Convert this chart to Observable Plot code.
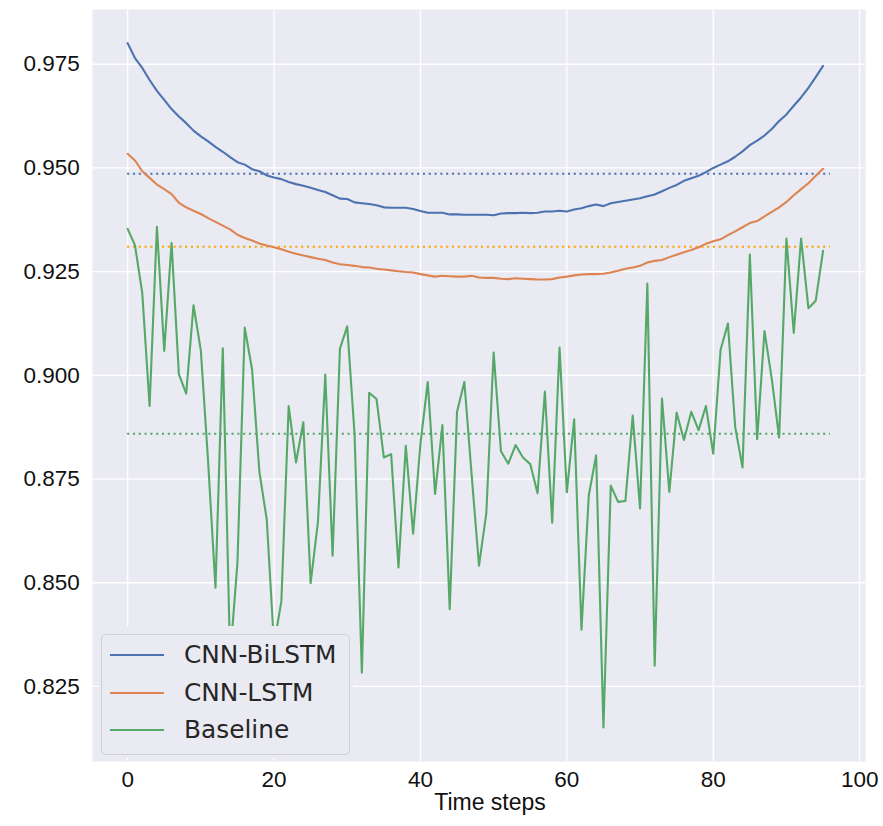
<!DOCTYPE html>
<html>
<head>
<meta charset="utf-8">
<script src="https://cdn.jsdelivr.net/npm/d3@7"></script>
<script src="https://cdn.jsdelivr.net/npm/@observablehq/plot@0.6"></script>
<style>
  body { margin: 0; background: #fff; }
  #wrap { position: relative; width: 883px; height: 826px; }
  #legend-cover { position: absolute; left: 99px; top: 626px; width: 254px; height: 132px; background: #eaeaf2; }
  #legend { position: absolute; left: 101px; top: 634px; width: 247px; height: 119px; background: #eaeaf2;
            border: 1.3px solid #cfcfd4; border-radius: 5px; font-family: "DejaVu Sans", sans-serif;
            font-size: 24.8px; color: #262626; }
  .row { position: absolute; left: 0; height: 30px; display: flex; align-items: center; }
  .sw { position: absolute; left: 8px; width: 54px; height: 2.4px; }
  .lab { position: absolute; left: 82px; white-space: nowrap; line-height: 30px; top: -15px; }
  #xlabel { position: absolute; left: 390px; width: 200px; top: 791px; text-align: center;
            font-family: "Liberation Sans", Arial, sans-serif; font-size: 23px; line-height: 23px; color: #111; }
</style>
</head>
<body>
<div id="wrap"></div>
<script>
// ---- data ----
const steps = d3.range(96);
const seriesNames = ["CNN-BiLSTM", "CNN-LSTM", "Baseline"];
const seriesColors = ["#4c72b0", "#dd8452", "#55a868"];
const meanColors = ["#4c72b0", "#ffa500", "#55a868"];

const cnnBiLSTM = [
  0.9801, 0.9765, 0.9741, 0.9712, 0.9686, 0.9664, 0.9642, 0.9624, 0.9608, 0.9590,
  0.9576, 0.9564, 0.9551, 0.9539, 0.9526, 0.9514, 0.9508, 0.9497, 0.9492, 0.9482,
  0.9477, 0.9473, 0.9466, 0.9461, 0.9457, 0.9452, 0.9447, 0.9442, 0.9434, 0.9426,
  0.9425, 0.9417, 0.9415, 0.9413, 0.9410, 0.9405, 0.9404, 0.9404, 0.9404, 0.9401,
  0.9396, 0.9392, 0.9392, 0.9392, 0.9388, 0.9388, 0.9387, 0.9387, 0.9387, 0.9387,
  0.9386, 0.9390, 0.9391, 0.9391, 0.9392, 0.9391, 0.9392, 0.9395, 0.9395, 0.9397,
  0.9395, 0.9400, 0.9403, 0.9408, 0.9412, 0.9408, 0.9415, 0.9418, 0.9421, 0.9424,
  0.9427, 0.9432, 0.9436, 0.9444, 0.9452, 0.9459, 0.9469, 0.9475, 0.9481, 0.9490,
  0.9500, 0.9508, 0.9516, 0.9527, 0.9540, 0.9555, 0.9566, 0.9578, 0.9594, 0.9613,
  0.9629, 0.9650, 0.9670, 0.9693, 0.9719, 0.9746
];
const cnnLSTM = [
  0.9534, 0.9518, 0.9492, 0.9476, 0.9460, 0.9449, 0.9437, 0.9416, 0.9405, 0.9397,
  0.9389, 0.9379, 0.9370, 0.9361, 0.9352, 0.9339, 0.9331, 0.9325, 0.9318, 0.9313,
  0.9309, 0.9304, 0.9298, 0.9293, 0.9289, 0.9285, 0.9281, 0.9278, 0.9272, 0.9268,
  0.9266, 0.9264, 0.9261, 0.9260, 0.9257, 0.9255, 0.9253, 0.9251, 0.9249, 0.9248,
  0.9244, 0.9241, 0.9238, 0.9240, 0.9239, 0.9238, 0.9238, 0.9240, 0.9236, 0.9235,
  0.9235, 0.9233, 0.9232, 0.9234, 0.9233, 0.9232, 0.9231, 0.9231, 0.9232, 0.9236,
  0.9238, 0.9241, 0.9243, 0.9244, 0.9244, 0.9245, 0.9248, 0.9252, 0.9257, 0.9260,
  0.9264, 0.9272, 0.9276, 0.9278, 0.9285, 0.9291, 0.9297, 0.9302, 0.9309, 0.9317,
  0.9323, 0.9328, 0.9338, 0.9347, 0.9357, 0.9367, 0.9372, 0.9383, 0.9394, 0.9405,
  0.9418, 0.9434, 0.9449, 0.9463, 0.9481, 0.9498
];
const baseline = [
  0.9353, 0.9314, 0.9198, 0.8926, 0.9358, 0.9059, 0.9319, 0.9003, 0.8956, 0.9169,
  0.9060, 0.8790, 0.8488, 0.9065, 0.8320, 0.8548, 0.9115, 0.9014, 0.8767, 0.8653,
  0.8350, 0.8455, 0.8926, 0.8790, 0.8887, 0.8499, 0.8647, 0.9002, 0.8565, 0.9064,
  0.9118, 0.8858, 0.8283, 0.8958, 0.8943, 0.8802, 0.8810, 0.8537, 0.8830, 0.8618,
  0.8835, 0.8984, 0.8714, 0.8880, 0.8436, 0.8912, 0.8984, 0.8759, 0.8541, 0.8668,
  0.9055, 0.8817, 0.8787, 0.8832, 0.8802, 0.8786, 0.8716, 0.8961, 0.8645, 0.9067,
  0.8718, 0.8894, 0.8387, 0.8711, 0.8807, 0.8151, 0.8734, 0.8695, 0.8697, 0.8903,
  0.8679, 0.9221, 0.8300, 0.8944, 0.8719, 0.8910, 0.8844, 0.8912, 0.8868, 0.8926,
  0.8811, 0.9061, 0.9125, 0.8875, 0.8778, 0.9291, 0.8846, 0.9107, 0.8991, 0.8850,
  0.9330, 0.9102, 0.9330, 0.9162, 0.9180, 0.9300
];
const meanValues = [0.9486, 0.9310, 0.8859];

const xTicks = [0, 20, 40, 60, 80, 100];
const yTicks = [0.825, 0.850, 0.875, 0.900, 0.925, 0.950, 0.975];
const xLabel = "Time steps";

// ---- build ----
const allSeries = [cnnBiLSTM, cnnLSTM, baseline];
const rows = allSeries.map(vals => steps.map((t, i) => ({t, v: vals[i]})));
const meanRows = meanValues.map((m, k) => ({m, k}));

const fontTicks = "Liberation Sans, Arial, sans-serif";

const chart = Plot.plot({
  width: 883,
  height: 826,
  marginLeft: 92,
  marginRight: 18,
  marginTop: 9,
  marginBottom: 65,
  style: {fontFamily: fontTicks, fontSize: "22.5px", color: "#111", background: "#fff"},
  x: {domain: [-4.8, 100.8]},
  y: {domain: [0.8069, 0.9882]},
  marks: [
    Plot.frame({fill: "#eaeaf2", stroke: null}),
    Plot.gridX({ticks: xTicks, stroke: "#ffffff", strokeOpacity: 1, strokeWidth: 1.3}),
    Plot.gridY({ticks: yTicks, stroke: "#ffffff", strokeOpacity: 1, strokeWidth: 1.3}),
    Plot.axisX({ticks: xTicks, tickSize: 0, tickPadding: 10, label: null, fontSize: 22.5, fill: "#111"}),
    Plot.axisY({ticks: yTicks, tickSize: 0, tickPadding: 12.7, label: null, fontSize: 22.5, fill: "#111",
                tickFormat: d3.format(".3f")}),
    ...meanRows.map(d => Plot.ruleY([d.m], {
      x1: 0, x2: steps.length, stroke: meanColors[d.k], strokeWidth: 2.1, strokeDasharray: "2.1,3.7"
    })),
    ...rows.map((r, k) => Plot.line(r, {
      x: "t", y: "v", stroke: seriesColors[k], strokeWidth: 2.1, strokeLinejoin: "round"
    }))
  ]
});

const wrap = document.getElementById("wrap");
wrap.appendChild(chart);

const cover = document.createElement("div");
cover.id = "legend-cover";
wrap.appendChild(cover);

const legend = document.createElement("div");
legend.id = "legend";
const rowTops = [20, 58, 95];
seriesNames.forEach((name, k) => {
  const row = document.createElement("div");
  row.className = "row";
  row.style.top = rowTops[k] + "px";
  const sw = document.createElement("div");
  sw.className = "sw";
  sw.style.background = seriesColors[k];
  sw.style.top = "-1.2px";
  const lab = document.createElement("div");
  lab.className = "lab";
  lab.textContent = name;
  row.appendChild(sw);
  row.appendChild(lab);
  legend.appendChild(row);
});
wrap.appendChild(legend);

const xl = document.createElement("div");
xl.id = "xlabel";
xl.textContent = xLabel;
wrap.appendChild(xl);
</script>
</body>
</html>
